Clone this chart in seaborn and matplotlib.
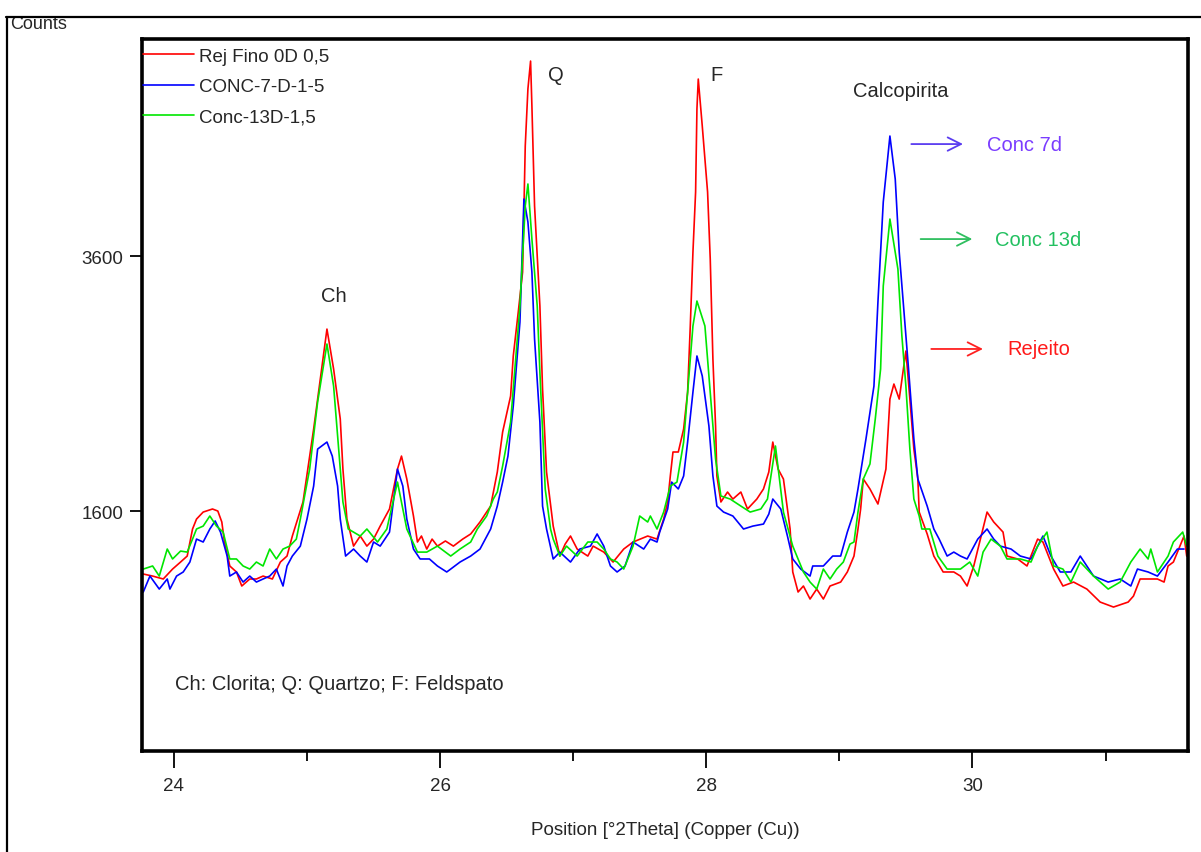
import numpy as np
import pandas as pd
import seaborn as sns
import matplotlib.pyplot as plt
from matplotlib.patches import Rectangle
from matplotlib.lines import Line2D

# XRD patterns (position in deg 2theta, counts)
rej_x = [23.77, 23.84, 23.92, 23.99, 24.05, 24.10, 24.14, 24.17, 24.22, 24.29, 24.33, 24.36, 24.38, 24.42,
         24.47, 24.51, 24.57, 24.62, 24.67, 24.74, 24.80, 24.85, 24.89, 24.97, 25.05, 25.10, 25.15, 25.20,
         25.25, 25.27, 25.30, 25.35, 25.40, 25.45, 25.50, 25.55, 25.62, 25.68, 25.71, 25.75, 25.80, 25.83,
         25.86, 25.90, 25.94, 25.98, 26.04, 26.10, 26.17, 26.23, 26.30, 26.38, 26.43, 26.47, 26.53, 26.55,
         26.59, 26.62, 26.64, 26.66, 26.68, 26.69, 26.71, 26.75, 26.77, 26.80, 26.85, 26.90, 26.94, 26.98,
         27.03, 27.11, 27.15, 27.23, 27.30, 27.38, 27.45, 27.56, 27.63, 27.68, 27.71, 27.73, 27.75, 27.79,
         27.83, 27.86, 27.88, 27.90, 27.92, 27.93, 27.94, 27.97, 28.01, 28.03, 28.05, 28.07, 28.08, 28.11,
         28.16, 28.20, 28.26, 28.31, 28.38, 28.43, 28.47, 28.50, 28.54, 28.58, 28.63, 28.65, 28.69, 28.73,
         28.78, 28.83, 28.88, 28.93, 29.01, 29.06, 29.11, 29.14, 29.16, 29.18, 29.23, 29.29, 29.35, 29.38,
         29.41, 29.45, 29.50, 29.53, 29.56, 29.59, 29.60, 29.66, 29.71, 29.78, 29.86, 29.91, 29.96, 30.01,
         30.06, 30.11, 30.16, 30.23, 30.26, 30.34, 30.41, 30.49, 30.53, 30.61, 30.68, 30.76, 30.86, 30.96,
         31.06, 31.17, 31.21, 31.26, 31.39, 31.44, 31.47, 31.51, 31.59, 31.61]
rej_y = [1106, 1090, 1067, 1145, 1200, 1247, 1459, 1537, 1592, 1616, 1600, 1514, 1357, 1169,
         1122, 1012, 1067, 1067, 1090, 1067, 1200, 1247, 1404, 1671, 2243, 2635, 3027, 2714,
         2322, 1929, 1537, 1325, 1404, 1325, 1380, 1482, 1616, 1929, 2031, 1851, 1561, 1357,
         1404, 1302, 1380, 1325, 1365, 1325, 1380, 1420, 1514, 1639, 1906, 2220, 2502, 2816,
         3184, 3474, 4463, 4910, 5129, 4776, 3992, 3208, 2557, 1906, 1482, 1247, 1341, 1404,
         1302, 1247, 1325, 1278, 1200, 1302, 1357, 1404, 1380, 1537, 1671, 1875, 2063, 2063,
         2243, 2533, 3051, 3631, 4102, 4753, 4988, 4620, 4102, 3576, 2792, 2267, 1875, 1671,
         1749, 1694, 1749, 1616, 1694, 1773, 1906, 2141, 1929, 1851, 1459, 1122, 965, 1012,
         910, 988, 910, 1012, 1043, 1122, 1247, 1459, 1616, 1851, 1773, 1655, 1929, 2478,
         2596, 2478, 2855, 2478, 2086, 1851, 1592, 1420, 1247, 1122, 1122, 1090, 1012, 1169,
         1380, 1592, 1514, 1435, 1247, 1224, 1169, 1380, 1357, 1145, 1012, 1043, 988, 886,
         847, 886, 933, 1067, 1067, 1043, 1169, 1200, 1404, 1247]

c7_x = [23.77, 23.82, 23.89, 23.95, 23.97, 24.02, 24.07, 24.12, 24.17, 24.22, 24.27, 24.31, 24.35, 24.40,
        24.42, 24.47, 24.52, 24.57, 24.62, 24.67, 24.72, 24.77, 24.82, 24.85, 24.89, 24.95, 25.00, 25.05,
        25.08, 25.15, 25.19, 25.23, 25.25, 25.29, 25.35, 25.40, 25.45, 25.50, 25.55, 25.62, 25.68, 25.72,
        25.75, 25.80, 25.85, 25.92, 25.98, 26.05, 26.08, 26.15, 26.23, 26.30, 26.38, 26.43, 26.47, 26.51,
        26.55, 26.58, 26.60, 26.62, 26.63, 26.66, 26.69, 26.71, 26.75, 26.77, 26.80, 26.85, 26.90, 26.98,
        27.05, 27.13, 27.18, 27.23, 27.28, 27.33, 27.39, 27.45, 27.53, 27.58, 27.63, 27.65, 27.71, 27.74,
        27.79, 27.83, 27.86, 27.90, 27.93, 27.97, 28.02, 28.05, 28.08, 28.13, 28.20, 28.28, 28.35, 28.43,
        28.47, 28.50, 28.56, 28.61, 28.65, 28.71, 28.78, 28.80, 28.88, 28.95, 29.01, 29.06, 29.11, 29.14,
        29.20, 29.26, 29.29, 29.33, 29.38, 29.42, 29.45, 29.50, 29.52, 29.56, 29.59, 29.66, 29.71, 29.75,
        29.81, 29.86, 29.91, 29.96, 30.04, 30.11, 30.16, 30.21, 30.29, 30.36, 30.44, 30.49, 30.53, 30.59,
        30.66, 30.74, 30.81, 30.91, 31.02, 31.11, 31.19, 31.24, 31.32, 31.39, 31.47, 31.54, 31.59]
c7_y = [965, 1090, 988, 1067, 988, 1090, 1122, 1200, 1380, 1357, 1459, 1522, 1435, 1247,
        1090, 1122, 1043, 1090, 1043, 1067, 1090, 1145, 1012, 1169, 1247, 1325, 1537, 1796,
        2086, 2141, 2031, 1796, 1537, 1247, 1302, 1247, 1200, 1357, 1325, 1435, 1929, 1796,
        1537, 1302, 1224, 1224, 1169, 1122, 1145, 1200, 1247, 1302, 1459, 1639, 1827, 2031,
        2424, 2816, 3082, 3733, 4047, 3867, 3474, 2949, 2298, 1639, 1459, 1224, 1278, 1200,
        1302, 1325, 1420, 1325, 1169, 1122, 1169, 1357, 1302, 1380, 1357, 1435, 1616, 1827,
        1773, 1875, 2141, 2533, 2816, 2659, 2267, 1875, 1639, 1592, 1561, 1459, 1482, 1498,
        1576, 1694, 1616, 1404, 1224, 1145, 1090, 1169, 1169, 1247, 1247, 1435, 1592, 1773,
        2165, 2580, 3239, 4023, 4541, 4204, 3631, 2973, 2714, 2165, 1851, 1639, 1459, 1380,
        1247, 1278, 1247, 1224, 1380, 1459, 1380, 1325, 1302, 1247, 1224, 1325, 1404, 1247,
        1122, 1122, 1247, 1090, 1043, 1067, 1012, 1145, 1122, 1090, 1200, 1302, 1302]

c13_x = [23.77, 23.84, 23.89, 23.95, 23.99, 24.05, 24.10, 24.14, 24.17, 24.22, 24.27, 24.32, 24.37, 24.42,
         24.47, 24.52, 24.57, 24.62, 24.67, 24.72, 24.77, 24.82, 24.87, 24.92, 24.95, 25.02, 25.08, 25.15,
         25.20, 25.23, 25.27, 25.31, 25.40, 25.45, 25.53, 25.60, 25.68, 25.75, 25.83, 25.90, 25.98, 26.08,
         26.15, 26.23, 26.28, 26.35, 26.40, 26.43, 26.47, 26.53, 26.56, 26.60, 26.64, 26.66, 26.69, 26.73,
         26.75, 26.79, 26.83, 26.85, 26.90, 26.95, 27.03, 27.11, 27.18, 27.23, 27.28, 27.33, 27.38, 27.45,
         27.50, 27.56, 27.58, 27.63, 27.68, 27.73, 27.78, 27.83, 27.86, 27.90, 27.93, 27.99, 28.03, 28.07,
         28.11, 28.18, 28.26, 28.33, 28.41, 28.46, 28.52, 28.58, 28.65, 28.73, 28.78, 28.83, 28.88, 28.93,
         28.98, 29.03, 29.08, 29.11, 29.14, 29.18, 29.23, 29.27, 29.31, 29.33, 29.38, 29.44, 29.47, 29.50,
         29.53, 29.56, 29.60, 29.62, 29.68, 29.74, 29.81, 29.91, 29.98, 30.04, 30.08, 30.14, 30.21, 30.26,
         30.36, 30.44, 30.49, 30.56, 30.61, 30.68, 30.74, 30.81, 30.91, 31.02, 31.11, 31.19, 31.26, 31.32,
         31.34, 31.39, 31.47, 31.51, 31.58, 31.61]
c13_y = [1145, 1169, 1090, 1302, 1224, 1286, 1278, 1380, 1459, 1482, 1561, 1482, 1435, 1224,
         1224, 1169, 1145, 1200, 1169, 1302, 1224, 1302, 1325, 1380, 1537, 1929, 2455, 2910,
         2580, 2188, 1671, 1459, 1404, 1459, 1357, 1459, 1827, 1459, 1278, 1278, 1325, 1247,
         1302, 1357, 1459, 1561, 1694, 1749, 1953, 2298, 2690, 3208, 3992, 4165, 3733, 3208,
         2690, 1773, 1459, 1380, 1247, 1325, 1247, 1357, 1357, 1302, 1224, 1200, 1145, 1325,
         1561, 1514, 1561, 1459, 1592, 1796, 1827, 2141, 2533, 3051, 3247, 3051, 2533, 2008,
         1718, 1694, 1639, 1592, 1616, 1694, 2110, 1592, 1325, 1122, 1043, 988, 1145, 1067,
         1145, 1200, 1341, 1357, 1592, 1851, 1969, 2322, 2714, 3365, 3890, 3498, 2973, 2580,
         2086, 1694, 1561, 1459, 1459, 1247, 1145, 1145, 1200, 1090, 1278, 1380, 1325, 1224,
         1224, 1200, 1325, 1435, 1169, 1145, 1043, 1200, 1090, 988, 1043, 1200, 1302, 1224,
         1302, 1122, 1247, 1357, 1435, 1325]

series_names = ['Rej Fino 0D 0,5', 'CONC-7-D-1-5', 'Conc-13D-1,5']
series_colors = ['#ff0000', '#0000ff', '#00e600']

df = pd.concat([
    pd.DataFrame({'pos': rej_x, 'counts': rej_y, 'amostra': series_names[0]}),
    pd.DataFrame({'pos': c7_x, 'counts': c7_y, 'amostra': series_names[1]}),
    pd.DataFrame({'pos': c13_x, 'counts': c13_y, 'amostra': series_names[2]}),
])

sns.set_style('white')
plt.rcParams['font.family'] = ['Liberation Sans', 'DejaVu Sans']
fs = 13.5   # axis / legend text
fa = 14.5   # annotations

fig = plt.figure(figsize=(12.01, 8.53), dpi=100)
ax = fig.add_axes([0.1182, 0.1184, 0.8710, 0.8347])

sns.lineplot(data=df, x='pos', y='counts', hue='amostra', hue_order=series_names,
             palette=dict(zip(series_names, series_colors)), estimator=None, sort=False,
             linewidth=1.2, ax=ax, legend=False)

ax.set_xlim(23.76, 31.62)
ax.set_ylim(-282, 5302)
ax.set_xticks([24, 26, 28, 30])
ax.set_xticks([25, 27, 29, 31], minor=True)
ax.set_yticks([1600, 3600])
ax.tick_params(axis='x', which='major', direction='out', length=12.5, width=1.3,
               labelsize=fs, pad=6, bottom=True, color='black')
ax.tick_params(axis='x', which='minor', direction='out', length=7, width=1.3, bottom=True, color='black')
ax.tick_params(axis='y', direction='out', length=8.5, width=1.3, labelsize=fs, pad=5, left=True, color='black')
for s in ax.spines.values():
    s.set_linewidth(2.6)
    s.set_color('black')
ax.set_xlabel('Position [°2Theta] (Copper (Cu))', fontsize=fs, labelpad=20)
ax.set_ylabel('')

# legend in the top-left corner, no frame
handles = [Line2D([], [], color=c, lw=1.2) for c in series_colors]
ax.legend(handles, series_names, loc='upper left', bbox_to_anchor=(0.0, 0.989),
          frameon=False, fontsize=fs, handlelength=2.75, handletextpad=0.25,
          labelspacing=0.7, borderaxespad=0, borderpad=0.05)

# peak labels
ax.text(25.20, 3294, 'Ch', fontsize=fa, ha='center', va='center')
ax.text(26.87, 5027, 'Q', fontsize=fa, ha='center', va='center')
ax.text(28.08, 5027, 'F', fontsize=fa, ha='center', va='center')
ax.text(29.46, 4902, 'Calcopirita', fontsize=fa, ha='center', va='center')
ax.text(24.01, 251, 'Ch: Clorita; Q: Quartzo; F: Feldspato', fontsize=fa, ha='left', va='center')

# arrows pointing at the calcopirita peak heights
arrows = [(29.52, 29.95, 4478, '#5a3cf0', 30.11, 'Conc 7d', '#7a3cff'),
          (29.59, 30.02, 3733, '#2fbf5f', 30.17, 'Conc 13d', '#22c060'),
          (29.67, 30.10, 2871, '#ff2020', 30.26, 'Rejeito', '#ff1a1a')]
for x0, x1, yy, ac, tx, lab, tc in arrows:
    ax.annotate('', xy=(x1, yy), xytext=(x0, yy),
                arrowprops=dict(arrowstyle='->', color=ac, lw=1.3, mutation_scale=24))
    ax.text(tx, yy, lab, color=tc, fontsize=fa, ha='left', va='center')

# outer frame of the exported screenshot, "Counts" cut at the top
fig.text(10 / 1201, 1 - 29 / 853, 'Counts', fontsize=13, ha='left', va='baseline')
fig.patches.append(Rectangle((0, 1 - 18 / 853), 1, 18 / 853, transform=fig.transFigure,
                             facecolor='white', edgecolor='none', zorder=5))
fig.lines.append(Line2D([6 / 1201, 1], [1 - 18 / 853] * 2, transform=fig.transFigure,
                        color='black', lw=1.6, zorder=6))
fig.lines.append(Line2D([7 / 1201] * 2, [0, 1 - 18 / 853], transform=fig.transFigure,
                        color='black', lw=1.6, zorder=6))

fig.savefig('out.png', dpi=100)
